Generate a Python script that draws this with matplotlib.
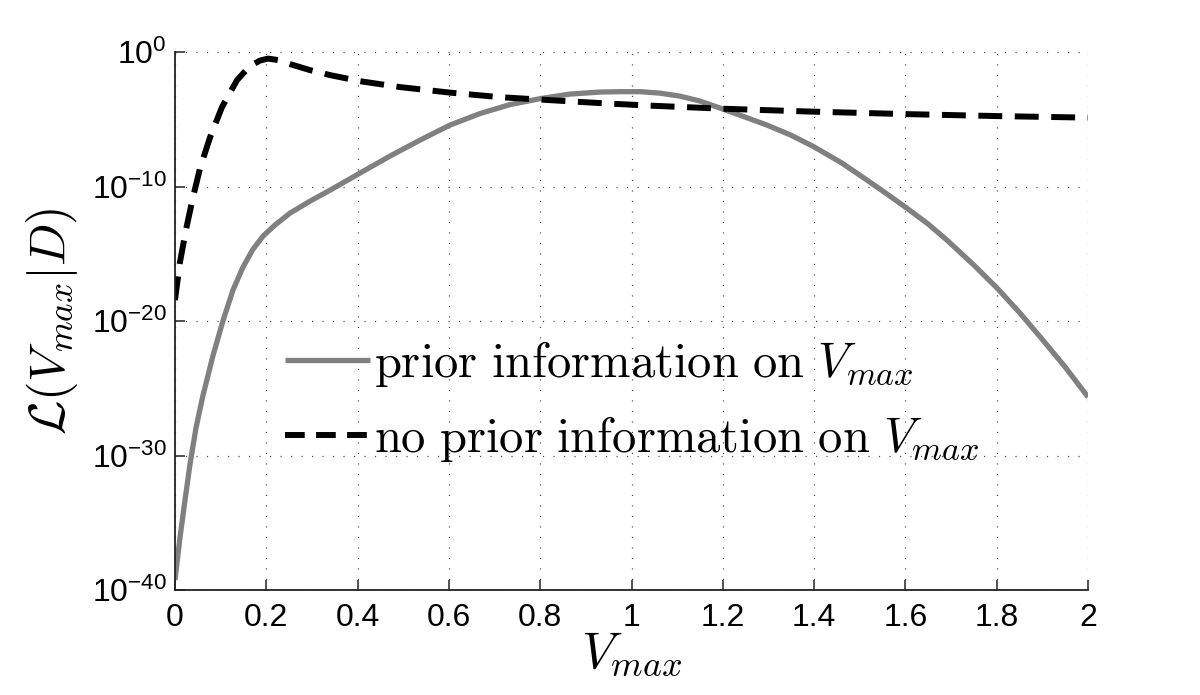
import matplotlib
matplotlib.use("Agg")
import matplotlib.pyplot as plt
import numpy as np
from matplotlib.ticker import FixedLocator, FuncFormatter, NullLocator

# ---- data (log10 of likelihood) ----
x_prior = [0.0, 0.011, 0.022, 0.033, 0.046, 0.061, 0.083, 0.105, 0.127, 0.149,
           0.171, 0.193, 0.219, 0.252, 0.296, 0.340, 0.405, 0.471, 0.537, 0.602,
           0.668, 0.734, 0.800, 0.865, 0.931, 0.975, 1.019, 1.062, 1.106, 1.150,
           1.194, 1.249, 1.297, 1.349, 1.397, 1.461, 1.516, 1.560, 1.603, 1.650,
           1.691, 1.750, 1.801, 1.851, 1.901, 1.950, 2.000]
log_prior = [-39.26, -36.10, -33.31, -30.63, -27.96, -25.58, -22.60, -20.00, -17.70, -15.99,
             -14.65, -13.68, -12.86, -11.97, -11.08, -10.26, -9.00, -7.73, -6.54, -5.43,
             -4.57, -3.90, -3.46, -3.12, -2.97, -2.94, -2.94, -3.05, -3.27, -3.64,
             -4.16, -4.83, -5.43, -6.17, -6.99, -8.25, -9.52, -10.56, -11.60, -12.79,
             -13.98, -15.84, -17.55, -19.41, -21.41, -23.42, -25.65]

x_noprior = [0.0, 0.011, 0.024, 0.039, 0.055, 0.077, 0.103, 0.136, 0.164, 0.186,
             0.204, 0.226, 0.252, 0.296, 0.340, 0.405, 0.493, 0.602, 0.712, 0.821,
             0.931, 1.041, 1.194, 1.391, 1.603, 1.807, 2.0]
log_noprior = [-18.44, -15.61, -13.23, -10.86, -8.62, -6.32, -4.09, -2.08, -1.04, -0.63,
               -0.48, -0.59, -0.89, -1.34, -1.71, -2.16, -2.60, -3.01, -3.35, -3.57,
               -3.79, -3.98, -4.20, -4.42, -4.61, -4.76, -4.87]

x_ticks = [0, 0.2, 0.4, 0.6, 0.8, 1.0, 1.2, 1.4, 1.6, 1.8, 2.0]
y_tick_exps = [-40, -30, -20, -10, 0]

label_prior = r'$\mathrm{prior\ information\ on\ }V_{max}$'
label_noprior = r'$\mathrm{no\ prior\ information\ on\ }V_{max}$'

# ---- style ----
plt.rcParams['font.family'] = ['Liberation Sans', 'DejaVu Sans']
plt.rcParams['mathtext.fontset'] = 'custom'
plt.rcParams['mathtext.rm'] = 'Liberation Sans'
plt.rcParams['mathtext.it'] = 'Liberation Sans:italic'
plt.rcParams['mathtext.bf'] = 'Liberation Sans:bold'

fig = plt.figure(figsize=(12, 6.95), dpi=100)
ax = fig.add_axes([0.1458, 0.151, 0.9067 - 0.1458, 0.925 - 0.151])

ax.plot(x_prior, 10.0 ** np.array(log_prior), color='#808080', lw=3.8,
        solid_capstyle='butt', solid_joinstyle='round', label=label_prior)
ax.plot(x_noprior, 10.0 ** np.array(log_noprior), color='black', lw=4.3,
        dashes=(4.0, 2.1), label=label_noprior)

ax.set_yscale('log')
ax.set_xlim(0, 2)
ax.set_ylim(1e-40, 1e0)
ax.xaxis.set_major_locator(FixedLocator(x_ticks))
ax.xaxis.set_major_formatter(FuncFormatter(lambda v, p: '%g' % v))
ax.yaxis.set_major_locator(FixedLocator([10.0 ** e for e in y_tick_exps]))
ax.yaxis.set_major_formatter(FuncFormatter(lambda v, p: r'$10^{%d}$' % round(np.log10(v))))
ax.yaxis.set_minor_locator(NullLocator())

for s in ['top', 'right']:
    ax.spines[s].set_visible(False)
for s in ['left', 'bottom']:
    ax.spines[s].set_linewidth(1.3)
    ax.spines[s].set_color('#222222')

ax.tick_params(axis='both', which='major', direction='in', length=7, width=1.1,
               color='#222222', labelsize=23)
ax.tick_params(axis='x', pad=9)
ax.tick_params(axis='y', pad=6)

ax.grid(True, which='major', color='#444444', lw=0.9, linestyle=(0, (0.9, 7.5)))
ax.set_axisbelow(True)

ax.set_xlabel(r'$V_{max}$', fontsize=37, math_fontfamily='cm', labelpad=-2)
ax.set_ylabel(r'$\mathcal{L}(V_{max}|D)$', fontsize=36, math_fontfamily='cm', labelpad=8)

leg = ax.legend(loc='upper left', bbox_to_anchor=(0.12, 0.466), frameon=False,
                fontsize=35, handlelength=1.75, handletextpad=0.1, labelspacing=0.5,
                borderaxespad=0, borderpad=0)
for t in leg.get_texts():
    t.set_math_fontfamily('cm')
leg.get_lines()[1].set_dashes((3.3, 1.9))

fig.savefig('out.png', dpi=100)
